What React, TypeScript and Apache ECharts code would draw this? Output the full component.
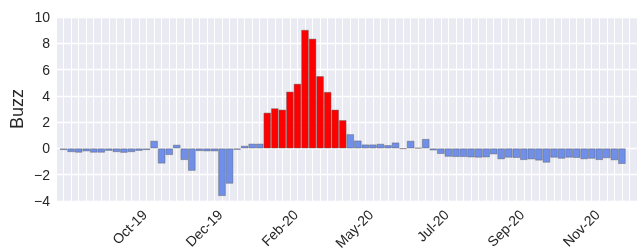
import React, { useEffect, useRef } from "react";
import * as echarts from "echarts";

// Weekly "Buzz" values, one bar per week (index 0..74)
const buzzValues: number[] = [
  -0.12, -0.28, -0.32, -0.22, -0.32, -0.32, -0.18, -0.28, -0.33, -0.28,
  -0.18, -0.12, 0.58, -1.15, -0.5, 0.28, -0.88, -1.7, -0.2, -0.22,
  -0.22, -3.62, -2.68, -0.1, 0.2, 0.36, 0.36, 2.72, 3.05, 2.95,
  4.32, 4.92, 9.02, 8.35, 5.5, 4.3, 2.95, 2.15, 1.08, 0.6,
  0.3, 0.3, 0.35, 0.25, 0.45, -0.03, 0.58, 0.04, 0.72, -0.15,
  -0.42, -0.63, -0.65, -0.65, -0.68, -0.7, -0.68, -0.45, -0.82, -0.7,
  -0.72, -0.88, -0.83, -0.92, -1.08, -0.7, -0.78, -0.7, -0.72, -0.82,
  -0.78, -0.88, -0.74, -0.9, -1.18,
];

// x tick labels and the bar index each sits at
const xTickLabels: string[] = ["Oct-19", "Dec-19", "Feb-20", "May-20", "Jul-20", "Sep-20", "Nov-20"];
const xTickIndex: number[] = [11, 21, 31, 41, 51, 61, 71];

const highlightThreshold = 2;

export default function App() {
  const ref = useRef<HTMLDivElement>(null);
  useEffect(() => {
    if (!ref.current) return;
    const chart = echarts.init(ref.current, undefined, { renderer: "svg" });
    const font = "'Liberation Sans', Arial, sans-serif";
    const labelMap: Record<number, string> = {};
    xTickIndex.forEach((ix, i) => (labelMap[ix] = xTickLabels[i]));
    chart.setOption({
      animation: false,
      grid: {
        left: 56,
        right: 6,
        top: 17,
        bottom: 49,
        show: true,
        backgroundColor: "#EAEAF2",
        borderWidth: 0,
        containLabel: false,
        outerBoundsMode: "none",
      },
      xAxis: {
        type: "value",
        min: -1,
        max: 76,
        interval: 1,
        axisLine: { show: false },
        axisTick: { show: false },
        splitLine: { show: true, lineStyle: { color: "#ffffff", width: 1 } },
        axisLabel: {
          rotate: 45,
          margin: 9,
          padding: [0, 3, 0, 0],
          fontSize: 14,
          fontFamily: font,
          color: "#262626",
          showMinLabel: true,
          showMaxLabel: true,
          formatter: (v: number) => labelMap[Math.round(v)] ?? "",
        },
      },
      yAxis: {
        type: "value",
        min: -4,
        max: 10,
        interval: 2,
        name: "Buzz",
        nameLocation: "middle",
        nameRotate: 90,
        nameGap: 30,
        nameMoveOverlap: false,
        nameTextStyle: { fontSize: 18, fontFamily: font, color: "#262626" },
        axisLine: { show: false },
        axisTick: { show: false },
        splitLine: { show: true, lineStyle: { color: "#ffffff", width: 1.3 } },
        axisLabel: {
          margin: 6,
          fontSize: 14,
          fontFamily: font,
          color: "#262626",
          formatter: (v: number) => (v < 0 ? "\u2212" + Math.abs(v) : String(v)),
        },
      },
      series: [
        {
          type: "bar",
          data: buzzValues.map((v, i) => [i, v]),
          barWidth: 7.5,
          itemStyle: {
            color: (p: any) => (p.value[1] > highlightThreshold ? "#FF0000" : "#6F8FE8"),
            borderColor: "rgba(90,90,90,0.55)",
            borderWidth: 0.8,
          },
        },
      ],
    });
    return () => chart.dispose();
  }, []);
  return (
    <div
      ref={ref}
      style={{ position: "fixed", left: 0, top: 0, width: 643, height: 250 }}
    />
  );
}
